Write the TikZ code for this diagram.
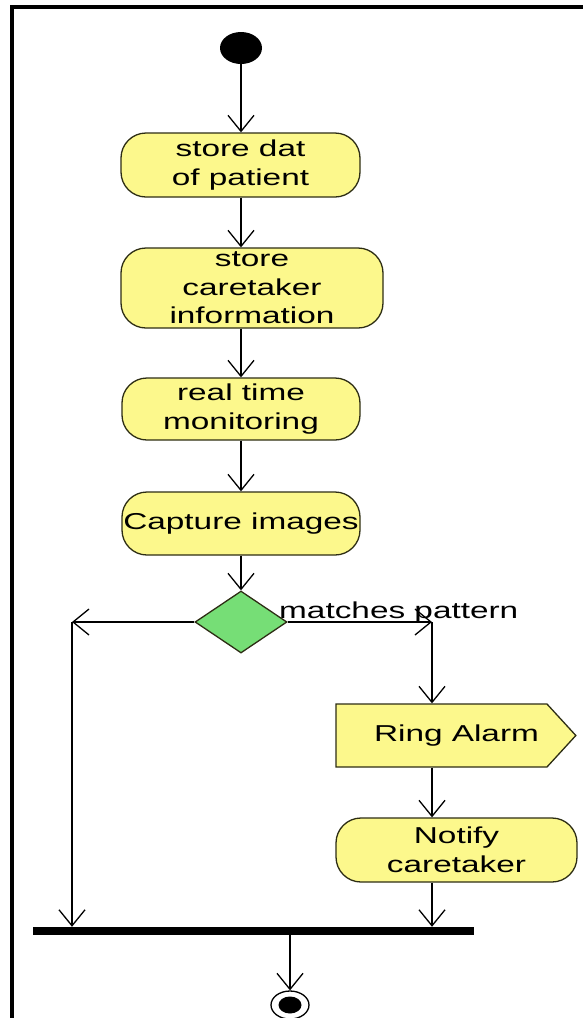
\documentclass[tikz,border=0pt]{standalone}
\usepackage{fontspec}
\setmainfont{Liberation Sans}[FakeStretch=1.45]
\usepackage{xcolor}
\usepackage{tikz}
\usetikzlibrary{positioning}
\usetikzlibrary{shapes.geometric}
\usetikzlibrary{shapes.symbols}
\usetikzlibrary{arrows.meta}
\definecolor{actyellow}{RGB}{252,248,140}
\definecolor{decgreen}{RGB}{118,222,118}
\definecolor{actline}{RGB}{45,45,20}
\tikzset{
    bigtext/.style={font=\fontsize{23}{28.5}\selectfont},
    activity/.style={draw=actline,fill=actyellow,line width=1.3pt,%
    rounded corners=25pt,align=center,inner sep=0pt,bigtext},
    decision/.style={draw=actline,fill=decgreen,line width=1.3pt,diamond,%
    inner sep=0pt,minimum width=92pt,minimum height=62pt},
    sendsig/.style={draw=actline,fill=actyellow,line width=1.3pt,signal,%
    signal to=east,signal pointer angle=95,inner ysep=0pt,bigtext},
    flow/.style={->,line width=1.3pt},
    >={Straight Barb[length=16pt,width=26pt]},
}
\begin{document}
\begin{tikzpicture}[x=1pt,y=-1pt]
    \useasboundingbox (0,0) rectangle (583,1018);
    % frame round the diagram
    \draw[line width=3.5pt] (12,1018) -- (12,7) -- (583,7);

    \node (start) [ellipse,fill=black,minimum width=42pt,minimum height=32pt,inner sep=0pt] at (241,48) {};
    \node (dat) [activity,minimum width=239pt,minimum height=64pt] at (240.5,165) {store dat\\of patient};
    \node (care) [activity,minimum width=262pt,minimum height=80pt] at (252,288) {store\\caretaker\\information};
    \node (mon) [activity,minimum width=238pt,minimum height=62pt] at (241,409) {real time\\monitoring};
    \node (cap) [activity,minimum width=238pt,minimum height=63pt] at (241,523.5) {Capture images};
    \node (dec) [decision] at (241,622) {};
    \coordinate (lft) at (72,622);
    \coordinate (rgt) at (432,622);
    \node (guard) [anchor=base west,inner sep=0pt,bigtext] at (279,618) {matches pattern};
    % text sits a little right of the box centre
    \node (alarm) [sendsig,inner xsep=8pt,minimum height=63pt] at (441.5,735.5) {\hspace*{30pt}Ring Alarm};
    \node (notify) [activity,minimum width=241pt,minimum height=64pt] at (456.5,850) {Notify\\caretaker};
    \node (bar) [fill=black,minimum width=441pt,minimum height=8pt,inner sep=0pt] at (253.5,931) {};
    \node (stop) [ellipse,draw,line width=1.3pt,minimum width=38pt,minimum height=28pt,inner sep=0pt] at (290,1005) {};
    \node (stopdot) [ellipse,fill=black,minimum width=23pt,minimum height=17pt,inner sep=0pt] at (stop) {};

    \draw[flow] (start) -- (dat.north -| start);
    \draw[flow] (dat.south -| start) -- (care.north -| start);
    \draw[flow] (care.south -| start) -- (mon.north -| start);
    \draw[flow] (mon.south -| start) -- (cap.north -| start);
    \draw[flow] (cap.south -| start) -- (dec.north);
    \draw[flow] (dec.west) -- (lft);
    \draw[flow] (lft) -- (bar.north -| lft);
    \draw[flow] (dec.east) -- (rgt);
    \draw[flow] (rgt) -- (alarm.north -| rgt);
    \draw[flow] (alarm.south -| rgt) -- (notify.north -| rgt);
    \draw[flow] (notify.south -| rgt) -- (bar.north -| rgt);
    \draw[flow] (bar.south -| stop) -- (stop.north);
\end{tikzpicture}
\end{document}
